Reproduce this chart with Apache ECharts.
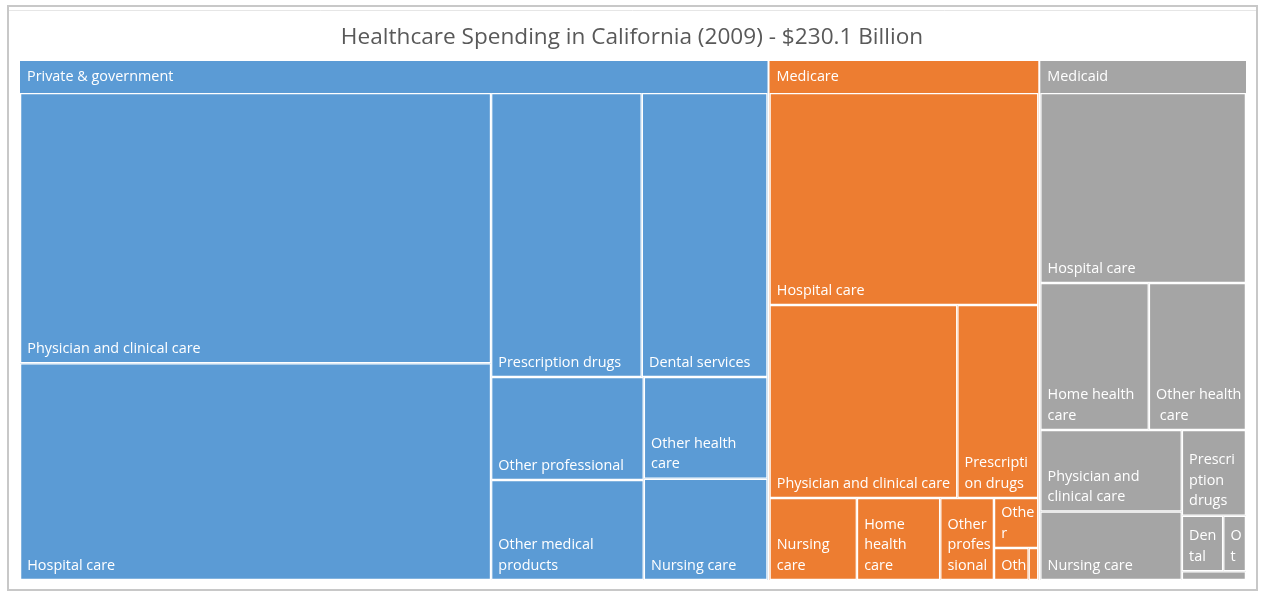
<!DOCTYPE html>
<html><head><meta charset="utf-8">
<script src="https://cdn.jsdelivr.net/npm/echarts@6/dist/echarts.min.js"></script>
<style>html,body{margin:0;padding:0;background:#fff}#c{width:1264px;height:592px}</style>
</head><body><div id="c"></div>
<script>
const titleText = 'Healthcare Spending in California (2009) - $230.1 Billion';
const groups = ['Private & government', 'Medicare', 'Medicaid'];
const groupColors = ['#5B9BD5', '#ED7D31', '#A5A5A5'];

const privateNames = ['Physician and clinical care', 'Hospital care', 'Prescription drugs', 'Dental services',
  'Other professional', 'Other medical products', 'Other health care', 'Nursing care'];
const privateValues = [49.13, 39.38, 16.51, 13.78, 6.07, 5.89, 4.86, 4.83];

const medicareNames = ['Hospital care', 'Physician and clinical care', 'Prescription drugs', 'Nursing care',
  'Home health care', 'Other professional', 'Other health care', 'Other medical products', 'Dental services'];
const medicareValues = [22.08, 14.05, 6.06, 2.78, 2.65, 1.71, 0.86, 0.43, 0.12];

const medicaidNames = ['Hospital care', 'Home health care', 'Other health care', 'Physician and clinical care',
  'Nursing care', 'Prescription drugs', 'Dental services', 'Other professional', 'Other medical products'];
const medicaidValues = [15.18, 6.20, 5.55, 4.48, 3.77, 2.14, 0.89, 0.49, 0.22];

const FONT = '"Open Sans", "Noto Sans", sans-serif';

function leaves(names, values, color) {
  return names.map((n, i) => ({ name: n, value: values[i], itemStyle: { color: color } }));
}
const groupNames = [privateNames, medicareNames, medicaidNames];
const groupValues = [privateValues, medicareValues, medicaidValues];
const data = groups.map((g, i) => ({
  name: g,
  itemStyle: { color: groupColors[i], borderColor: groupColors[i] },
  children: leaves(groupNames[i], groupValues[i], groupColors[i])
}));

const chart = echarts.init(document.getElementById('c'), null, { renderer: 'canvas' });
chart.setOption({
  animation: false,
  backgroundColor: '#fff',
  title: {
    text: titleText, left: 'center', top: 21,
    textStyle: { fontFamily: FONT, fontSize: 22.6, fontWeight: 'normal', color: '#595959' }
  },
  graphic: [
    { type: 'rect', silent: true, z: -10, shape: { x: 8, y: 6, width: 1249, height: 584 },
      style: { fill: 'none', stroke: '#C8C8C8', lineWidth: 2 } },
    { type: 'line', silent: true, z: -10, shape: { x1: 9, y1: 10.5, x2: 1256, y2: 10.5 },
      style: { stroke: '#E6E6E6', lineWidth: 1 } }
  ],
  series: [{
    type: 'treemap',
    left: 20, top: 61, right: 18, bottom: 12,
    roam: false, nodeClick: false,
    breadcrumb: { show: false },
    squareRatio: 1.3,
    sort: 'desc',
    visibleMin: 0,
    silent: true,
    label: {
      show: true, position: 'insideBottomLeft', color: '#fff',
      fontFamily: FONT, fontSize: 14.4, lineHeight: 20.5,
      padding: [0, 1, 3, 6], overflow: 'break'
    },
    upperLabel: {
      show: false
    },
    levels: [
      { itemStyle: { borderWidth: 0, gapWidth: 2, borderColor: '#fff' }, upperLabel: { show: false } },
      { itemStyle: { borderWidth: 0, gapWidth: 0 },
        upperLabel: { show: true, height: 32, color: '#fff', fontFamily: FONT, fontSize: 14.4, padding: [0, 0, 0, 7] } },
      { itemStyle: { borderWidth: 1.25, borderColor: '#fff', gapWidth: 0 } }
    ],
    data: data
  }]
});
</script>
</body></html>
